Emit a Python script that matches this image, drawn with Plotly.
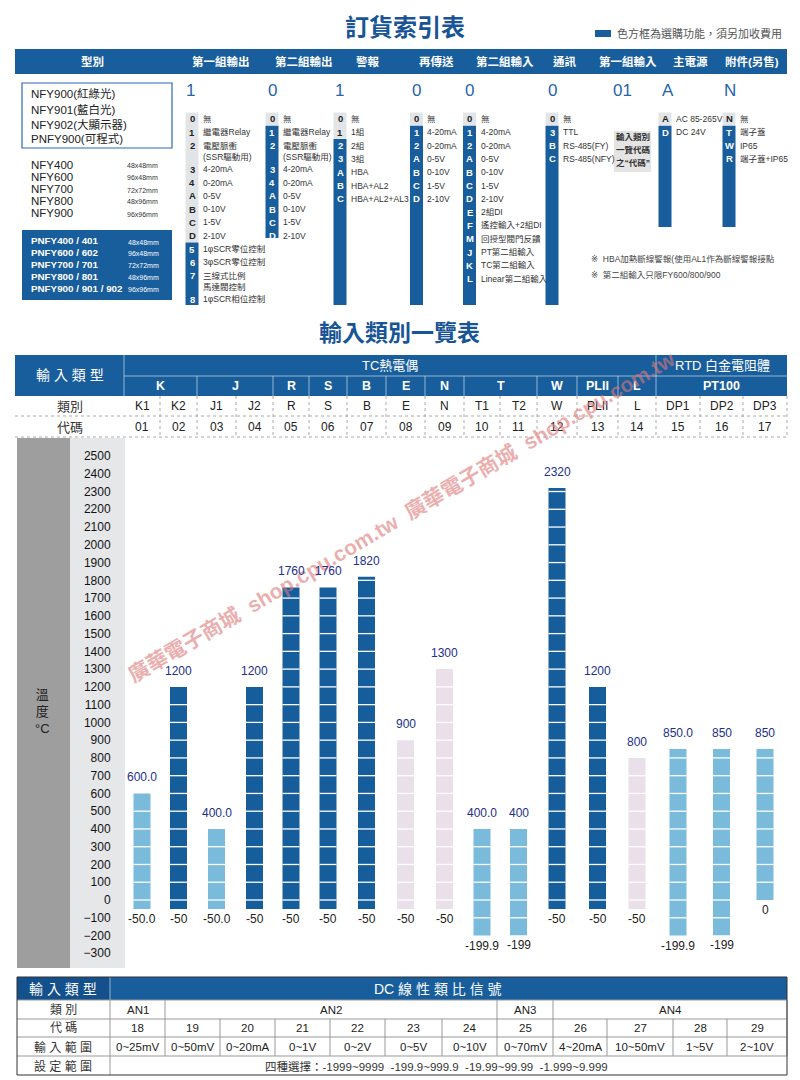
import plotly.graph_objects as go

W, H = 800, 1080
FONT = 'Liberation Sans, DejaVu Sans, Noto Sans CJK TC, sans-serif'
BLUE = 'rgb(24,93,156)'
TITLE_BLUE = 'rgb(24,84,150)'
CODE_BLUE = 'rgb(40,100,172)'
LIGHT_BOX = 'rgb(226,229,232)'
BAR_COLORS = {'dark': 'rgb(22,94,155)', 'light': 'rgb(122,187,219)', 'pink': 'rgb(233,224,234)'}

# ---------------- ordering index (訂貨索引表) ----------------
order_heads = ['型別', '第一組輸出', '第二組輸出', '警報', '再傳送', '第二組輸入',
               '通訊', '第一組輸入', '主電源', '附件(另售)']
example_code = ['1', '0', '1', '0', '0', '0', '01', 'A', 'N']

models_a = ['NFY900(紅綠光)', 'NFY901(藍白光)', 'NFY902(大顯示器)', 'PNFY900(可程式)']
models_b = ['NFY400', 'NFY600', 'NFY700', 'NFY800', 'NFY900']
models_c = ['PNFY400 / 401', 'PNFY600 / 602', 'PNFY700 / 701', 'PNFY800 / 801', 'PNFY900 / 901 / 902']
model_sizes = ['48x48mm', '96x48mm', '72x72mm', '48x96mm', '96x96mm']

out1_codes = ['0', '1', '2', '3', '4', 'A', 'B', 'C', 'D', '5', '6', '7', '8']
out1_text = ['無', '繼電器Relay', '電壓脈衝<br>(SSR驅動用)', '4-20mA', '0-20mA', '0-5V', '0-10V',
             '1-5V', '2-10V', '1φSCR零位控制', '3φSCR零位控制', '三線式比例<br>馬達閥控制', '1φSCR相位控制']
out2_codes = ['0', '1', '2', '3', '4', 'A', 'B', 'C', 'D']
out2_text = ['無', '繼電器Relay', '電壓脈衝<br>(SSR驅動用)', '4-20mA', '0-20mA', '0-5V', '0-10V', '1-5V', '2-10V']
alarm_codes = ['0', '1', '2', '3', 'A', 'B', 'C']
alarm_text = ['無', '1組', '2組', '3組', 'HBA', 'HBA+AL2', 'HBA+AL2+AL3']
retx_codes = ['0', '1', '2', 'A', 'B', 'C', 'D']
retx_text = ['無', '4-20mA', '0-20mA', '0-5V', '0-10V', '1-5V', '2-10V']
in2_codes = ['0', '1', '2', 'A', 'B', 'C', 'D', 'E', 'F', 'M', 'J', 'K', 'L']
in2_text = ['無', '4-20mA', '0-20mA', '0-5V', '0-10V', '1-5V', '2-10V', '2組DI', '遙控輸入+2組DI',
            '回授型閥門反饋', 'PT第二組輸入', 'TC第二組輸入', 'Linear第二組輸入']
comm_codes = ['0', '3', 'B', 'C']
comm_text = ['無', 'TTL', 'RS-485(FY)', 'RS-485(NFY)']
power_codes = ['A', 'D']
power_text = ['AC 85-265V', 'DC 24V']
acc_codes = ['N', 'T', 'W', 'R']
acc_text = ['無', '端子蓋', 'IP65', '端子蓋+IP65']
optional_from = [9, 1, 2, 1, 1, 1, 1, 1]   # first option index sold as extra (blue box)
notes = ['※  HBA加熱斷線警報(使用AL1作為斷線警報接點', '※  第二組輸入只限FY600/800/900']

# ---------------- input types (輸入類別一覽表) ----------------
tc_groups = ['K', 'J', 'R', 'S', 'B', 'E', 'N', 'T', 'W', 'PLII', 'L']
tc_spans = [2, 2, 1, 1, 1, 1, 1, 2, 1, 1, 1]
types = ['K1', 'K2', 'J1', 'J2', 'R', 'S', 'B', 'E', 'N', 'T1', 'T2', 'W', 'PLII', 'L', 'DP1', 'DP2', 'DP3']
type_codes = ['01', '02', '03', '04', '05', '06', '07', '08', '09', '10', '11', '12', '13', '14', '15', '16', '17']
t_max = [600, 1200, 400, 1200, 1760, 1760, 1820, 900, 1300, 400, 400, 2320, 1200, 800, 850, 850, 850]
t_min = [-50, -50, -50, -50, -50, -50, -50, -50, -50, -199.9, -199, -50, -50, -50, -199.9, -199, 0]
max_labels = ['600.0', '1200', '400.0', '1200', '1760', '1760', '1820', '900', '1300',
              '400.0', '400', '2320', '1200', '800', '850.0', '850', '850']
min_labels = ['-50.0', '-50', '-50.0', '-50', '-50', '-50', '-50', '-50', '-50',
              '-199.9', '-199', '-50', '-50', '-50', '-199.9', '-199', '0']
shade = ['light', 'dark', 'light', 'dark', 'dark', 'dark', 'dark', 'pink', 'pink',
         'light', 'light', 'dark', 'dark', 'pink', 'light', 'light', 'light']
temp_ticks = list(range(-300, 2501, 100))

# ---------------- DC linear signals ----------------
dc_classes = ['AN1', 'AN2', 'AN3', 'AN4']
dc_spans = [1, 6, 1, 4]
dc_codes = ['18', '19', '20', '21', '22', '23', '24', '25', '26', '27', '28', '29']
dc_ranges = ['0~25mV', '0~50mV', '0~20mA', '0~1V', '0~2V', '0~5V', '0~10V',
             '0~70mV', '4~20mA', '10~50mV', '1~5V', '2~10V']
dc_setting = '四種選擇：-1999~9999  -199.9~999.9  -19.99~99.99  -1.999~9.999'

shapes, anns = [], []


def X(x):
    return x / W


def Y(y):
    return 1 - y / H


def rect(x0, y0, x1, y1, fill=None, line=None, lw=1, layer='above'):
    shapes.append(dict(type='rect', xref='paper', yref='paper', x0=X(x0), x1=X(x1), y0=Y(y1), y1=Y(y0),
                       fillcolor=fill or 'rgba(0,0,0,0)', layer=layer,
                       line=dict(color=line or 'rgba(0,0,0,0)', width=lw if line else 0)))


def seg(x0, y0, x1, y1, color='#999', lw=1, dash='solid'):
    shapes.append(dict(type='line', xref='paper', yref='paper', x0=X(x0), x1=X(x1), y0=Y(y0), y1=Y(y1),
                       line=dict(color=color, width=lw, dash=dash)))


def text(x, y, s, size=11, color='#222', anchor='left', bold=False, va='middle', angle=0):
    if bold:
        s = '<b>' + s + '</b>'
    anns.append(dict(xref='paper', yref='paper', x=X(x), y=Y(y), text=s, showarrow=False,
                     xanchor=anchor, yanchor=va, textangle=angle, borderpad=0,
                     align='left' if anchor == 'left' else 'center',
                     font=dict(size=size, color=color, family=FONT)))


# ===== top: ordering index =====
text(405, 27, '訂貨索引表', 24, TITLE_BLUE, 'center', True)
rect(595, 30, 611, 37, BLUE)
text(616, 33, '色方框為選購功能，須另加收費用', 11, '#555')
rect(15, 49, 787, 74, BLUE)
for x, s in zip([92, 221, 304, 368, 436, 505, 565, 628, 690, 752], order_heads):
    text(x, 62, s, 11.5, 'white', 'center', True)
for x, s in zip([190, 272, 339, 416, 469, 552, 622, 668, 730], example_code):
    text(x, 90, s, 17, CODE_BLUE, 'center')

rect(22, 83, 172, 148, line='rgb(45,105,175)', lw=1.2)
for i, s in enumerate(models_a):
    text(30, 94 + 15 * i, s, 11.5, '#222')
for i, (s, z) in enumerate(zip(models_b, model_sizes)):
    text(30, 165 + 12 * i, s, 11.5, '#222')
    text(126, 166 + 12 * i, z, 7, '#333')
rect(22, 230, 172, 300, BLUE)
for i, (s, z) in enumerate(zip(models_c, model_sizes)):
    text(30, 241 + 11.8 * i, s, 9.8, 'white', bold=True)
    text(127, 242 + 11.8 * i, z, 7, 'white')

option_cols = [(out1_codes, out1_text), (out2_codes, out2_text), (alarm_codes, alarm_text),
               (retx_codes, retx_text), (in2_codes, in2_text), (comm_codes, comm_text),
               (power_codes, power_text), (acc_codes, acc_text)]
code_x = [192, 272, 340, 416.5, 469.5, 552, 665, 729]
strip_bottom = [305, 238, 305, 305, 305, 305, 227, 227]
for k, (codes, labels) in enumerate(option_cols):
    cx = code_x[k]
    ys, y = [], 119
    for lab in labels:
        ys.append(y)
        y += 13.3 + 10.3 * lab.count('<br>')
    start = optional_from[k]
    last_light = ys[start - 1] + 6.5 + 10.3 * labels[start - 1].count('<br>')
    rect(cx - 6.5, ys[0] - 6.5, cx + 6.5, last_light, LIGHT_BOX)
    rect(cx - 6.5, ys[start] - 6.5, cx + 6.5, strip_bottom[k], BLUE)
    for i, (c, lab, yy) in enumerate(zip(codes, labels, ys)):
        text(cx, yy, c, 9.5, 'white' if i >= start else '#222', 'center', True)
        text(cx + 10, yy - 6, lab, 8.5, '#333', va='top')

rect(614, 131, 651, 172, 'rgb(228,228,228)')
for i, s in enumerate(['輸入類別', '一覽代碼', '之“代碼”']):
    text(633, 137 + 13 * i, s, 8.5, '#333', 'center', True)
for i, s in enumerate(notes):
    text(590, 259 + 16 * i, s, 8.5, '#444')

# ===== middle: input type table =====
text(399, 333, '輸入類別一覽表', 23, TITLE_BLUE, 'center', True)
col_edges = [124, 160, 197, 236, 273, 309, 347, 386, 425, 464, 500, 537, 577, 618, 656, 700, 743, 787]
centers = [(a + b) / 2 for a, b in zip(col_edges[:-1], col_edges[1:])]
rect(15, 355, 787, 396, BLUE)
soft = 'rgba(255,255,255,0.55)'
seg(124, 355, 124, 437, soft, 1)
seg(124, 376, 787, 376, soft, 1)
seg(656, 355, 656, 396, soft, 1)
text(70, 375, '輸 入 類 型', 14, 'white', 'center')
text(390, 365, 'TC熱電偶', 13, 'white', 'center')
text(722, 365, 'RTD 白金電阻體', 13, 'white', 'center')
i0 = 0
for g, n in zip(tc_groups + ['PT100'], tc_spans + [3]):
    a, b = col_edges[i0], col_edges[i0 + n]
    if i0 > 0 and i0 != 14:
        seg(a, 376, a, 396, soft, 1)
    text((a + b) / 2, 386, g, 12.5, 'white', 'center', True)
    i0 += n
for yy in [416, 437]:
    seg(15, yy, 787, yy, '#aaa', 1, 'dot')
for e in col_edges[1:]:
    seg(e, 396, e, 437, '#aaa', 1, 'dot')
text(70, 406, '類別', 13, '#333', 'center')
text(70, 427, '代碼', 13, '#333', 'center')
for c, t, cd in zip(centers, types, type_codes):
    text(c, 406, t, 12, '#222', 'center')
    text(c, 427, cd, 12, '#222', 'center')

# chart side panel
rect(17, 438, 70, 968, 'rgb(158,158,158)', layer='below')
rect(70, 438, 125, 968, 'rgb(229,231,233)', layer='below')
text(42, 711, '溫<br>度<br>°C', 13, '#222', 'center')

# ===== bottom: DC linear table =====
rect(17, 977, 787, 1000, BLUE)
rect(17, 977, 110, 1000, 'rgb(20,80,140)')
seg(110, 977, 110, 1000, soft, 1)
text(63, 989, '輸 入 類 型', 14, 'white', 'center')
text(438, 989, 'DC 線 性 類 比 信 號', 14, 'white', 'center')
dc_edges = [110, 165, 220, 275, 330, 385, 442, 497, 553, 607, 673, 727, 787]
for yy in [1000, 1019, 1037, 1056]:
    seg(17, yy, 787, yy, '#999', 1)
seg(110, 1000, 110, 1075, '#999', 1)
i0 = 0
for cl, n in zip(dc_classes, dc_spans):
    a, b = dc_edges[i0], dc_edges[i0 + n]
    seg(b, 1000, b, 1019, '#999', 1)
    text((a + b) / 2, 1010, cl, 11.5, '#222', 'center')
    i0 += n
for i in range(12):
    a, b = dc_edges[i], dc_edges[i + 1]
    seg(b, 1019, b, 1056, '#999', 1)
    text((a + b) / 2, 1028, dc_codes[i], 11.5, '#222', 'center')
    text((a + b) / 2, 1047, dc_ranges[i], 11.5, '#222', 'center')
for yy, s in zip([1010, 1028, 1047, 1066], ['類 別', '代 碼', '輸 入 範 圍', '設 定 範 圍']):
    text(63, yy, s, 12, '#333', 'center')
text(436, 1066, dc_setting, 11.5, '#333', 'center')
rect(17, 977, 787, 1075, line='#333', lw=1)

# watermark
text(402, 516, '廣華電子商城  shop.cpu.com.tw  廣華電子商城  shop.cpu.com.tw', 21,
     'rgba(222,120,120,0.6)', 'center', True, angle=-30.5)

# ===== bars =====
colors = [BAR_COLORS[s] for s in shade]
spans = [hi - lo for lo, hi in zip(t_min, t_max)]
fig = go.Figure()
fig.add_trace(go.Bar(x=centers, y=spans, base=t_min, width=17, marker=dict(color=colors, line=dict(width=0)),
                     hoverinfo='skip'))
seg_x, seg_y = [], []
for c, lo, hi in zip(centers, t_min, t_max):
    for v in temp_ticks:
        if lo < v < hi:
            seg_x += [c - 8.5, c + 8.5, None]
            seg_y += [v, v, None]
fig.add_trace(go.Scatter(x=seg_x, y=seg_y, mode='lines', line=dict(color='white', width=1.3),
                         hoverinfo='skip'))
for c, hi, lo, a, b in zip(centers, t_max, t_min, max_labels, min_labels):
    anns.append(dict(x=c, y=hi, xref='x', yref='y', text=a, showarrow=False, yanchor='bottom',
                     yshift=7, font=dict(size=12, color='rgb(28,48,140)', family=FONT)))
    anns.append(dict(x=c, y=lo, xref='x', yref='y', text=b, showarrow=False, yanchor='top',
                     yshift=-1, font=dict(size=12, color='#222', family=FONT)))

fig.update_layout(
    width=W, height=H, margin=dict(l=0, r=0, t=0, b=0),
    paper_bgcolor='white', plot_bgcolor='rgba(0,0,0,0)', showlegend=False,
    xaxis=dict(domain=[125 / W, 787 / W], range=[125, 787], visible=False, fixedrange=True),
    yaxis=dict(domain=[1 - 968 / H, 1 - 440 / H], range=[-382.9, 2590.1], tickvals=temp_ticks,
               showgrid=False, zeroline=False, showline=False, ticks='outside', ticklen=11,
               tickcolor='rgba(0,0,0,0)', tickfont=dict(size=12, color='#111', family=FONT)),
    shapes=shapes, annotations=anns,
)
fig.write_html('out.html', config={'displayModeBar': False},
               post_script="document.body.style.margin='0';document.body.style.overflow='hidden';")
